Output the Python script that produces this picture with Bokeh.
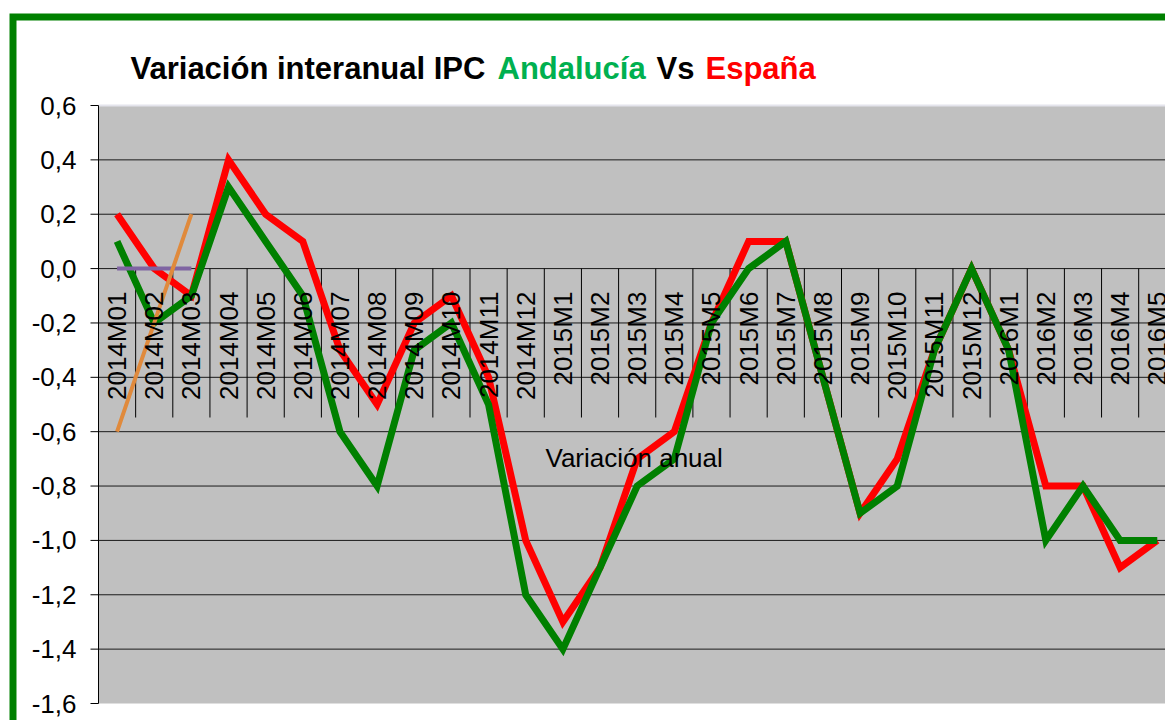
import math
from bokeh.plotting import figure
from bokeh.models import Range1d
from bokeh.core.properties import value
from bokeh.embed import file_html
from bokeh.resources import INLINE

# ---------------- data ----------------
categories = ["2014M01", "2014M02", "2014M03", "2014M04", "2014M05", "2014M06",
              "2014M07", "2014M08", "2014M09", "2014M10", "2014M11", "2014M12",
              "2015M1", "2015M2", "2015M3", "2015M4", "2015M5", "2015M6",
              "2015M7", "2015M8", "2015M9", "2015M10", "2015M11", "2015M12",
              "2016M1", "2016M2", "2016M3", "2016M4", "2016M5"]
espana = [0.2, 0.0, -0.1, 0.4, 0.2, 0.1, -0.3, -0.5, -0.2, -0.1, -0.4, -1.0,
          -1.3, -1.1, -0.7, -0.6, -0.2, 0.1, 0.1, -0.4, -0.9, -0.7, -0.3, 0.0,
          -0.3, -0.8, -0.8, -1.1, -1.0]
andalucia = [0.1, -0.2, -0.1, 0.3, 0.1, -0.1, -0.6, -0.8, -0.3, -0.2, -0.5, -1.2,
             -1.4, -1.1, -0.8, -0.7, -0.2, 0.0, 0.1, -0.4, -0.9, -0.8, -0.3, 0.0,
             -0.3, -1.0, -0.8, -1.0, -1.0]
extra_orange = [-0.6, -0.2, 0.2]
extra_purple = [0.0, 0.0, 0.0]
y_ticks = [-1.6, -1.4, -1.2, -1.0, -0.8, -0.6, -0.4, -0.2, 0.0, 0.2, 0.4, 0.6]
y_labels = [f"{v:.1f}".replace(".", ",") for v in y_ticks]
title_parts = ["Variación interanual IPC", "Andalucía", "Vs", "España"]
title_colors = ["black", "#00B050", "black", "#FF0000"]
note_text = "Variación anual"

# ---------------- geometry (pixels of the picture) ----------------
W, H = 1165, 720
PA_LEFT, PA_TOP, PA_BOTTOM = 98, 105, 703     # plot area edges
CAT_W = 37.15                                  # width of one category band
YMIN, YMAX = y_ticks[0], y_ticks[-1]
ppy = (PA_BOTTOM - PA_TOP) / (YMAX - YMIN)
X0 = -0.5 - PA_LEFT / CAT_W
X1 = X0 + W / CAT_W
Y1 = YMAX + PA_TOP / ppy
Y0 = Y1 - H / ppy


def dx(px):
    return X0 + px / CAT_W


def dy(py):
    return Y1 - py / ppy


FONT = "Liberation Sans"

p = figure(width=W, height=H, output_backend="svg", toolbar_location=None,
           x_range=Range1d(X0, X1), y_range=Range1d(Y0, Y1),
           x_axis_location=None, y_axis_location=None,
           min_border=0)
p.background_fill_color = "white"
p.border_fill_color = "white"
p.outline_line_color = None
p.grid.visible = False

n = len(categories)
x = list(range(n))
right_edge = X1 + 1

# plot area background
p.quad(left=[-0.5], right=[right_edge], top=[YMAX], bottom=[YMIN],
       fill_color="#C0C0C0", line_color=None)
p.segment(x0=[-0.5], y0=[YMAX], x1=[right_edge], y1=[YMAX],
          line_color="#E4E4EC", line_width=2)

# horizontal gridlines
inner = y_ticks[1:-1]
p.segment(x0=[-0.5] * len(inner), y0=inner, x1=[right_edge] * len(inner), y1=inner,
          line_color="#1a1a1a", line_width=1)

# value axis: line, ticks, labels
p.segment(x0=[-0.5], y0=[YMIN], x1=[-0.5], y1=[YMAX], line_color="black", line_width=1)
p.segment(x0=[dx(PA_LEFT - 8)] * len(y_ticks), y0=y_ticks,
          x1=[-0.5] * len(y_ticks), y1=y_ticks, line_color="black", line_width=1)
p.text(x=[dx(76)] * len(y_ticks), y=y_ticks, text=y_labels,
       text_align="right", text_baseline="middle",
       text_font=value(FONT), text_font_size="26px", text_color="black")

# category separators hanging from the zero line
sep_x = [i - 0.5 for i in range(n + 1)]
p.segment(x0=sep_x, y0=[0.0] * len(sep_x), x1=sep_x, y1=[dy(417)] * len(sep_x),
          line_color="black", line_width=1)

# series
p.line(x, espana, line_color="#FF0000", line_width=7, line_join="miter")
p.line(x, andalucia, line_color="#008000", line_width=7, line_join="miter")
p.line(x[:3], extra_purple, line_color="#7F64A2", line_width=4)
p.line(x[:3], extra_orange, line_color="#E08A3C", line_width=4)

# category labels, rotated, hanging below the zero line
p.text(x=x, y=[0.0] * n, text=categories, angle=math.pi / 2,
       text_align="right", text_baseline="middle", y_offset=23,
       text_font=value(FONT), text_font_size="26px", text_color="black")

# note inside plot
p.text(x=[dx(545)], y=[dy(457)], text=[note_text],
       text_align="left", text_baseline="middle",
       text_font=value(FONT), text_font_size="26px", text_color="black")

# multi-coloured title
title_px = [130, 497, 656, 705]
p.text(x=[dx(v) for v in title_px], y=[dy(68)] * len(title_parts), text=title_parts,
       text_color=title_colors, text_align="left", text_baseline="middle",
       text_font=value(FONT), text_font_size="31px", text_font_style="bold")

# green chart border (left and top edges visible)
p.quad(left=[dx(12.5)], right=[dx(3000)], top=[dy(16.5)], bottom=[dy(3000)],
       fill_color=None, line_color="#008000", line_width=7, line_join="miter")

open("out.html", "w").write(file_html(p, INLINE))
